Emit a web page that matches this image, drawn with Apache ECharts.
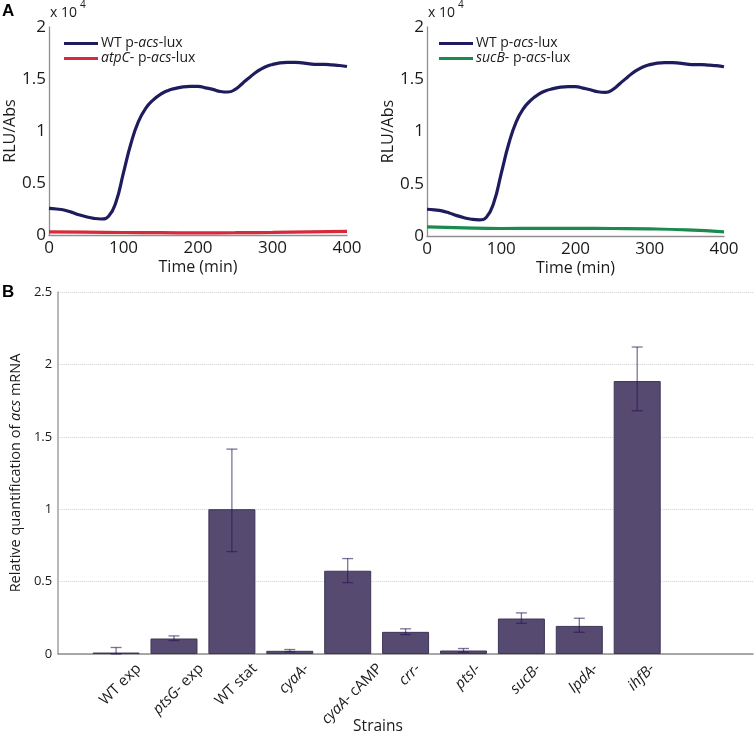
<!DOCTYPE html>
<html><head><meta charset="utf-8">
<script src="https://cdn.jsdelivr.net/npm/echarts@6/dist/echarts.min.js"></script>
<style>html,body{margin:0;padding:0;background:#fff}#c{width:755px;height:739px}</style>
</head><body><div id="c"></div>
<script>
// ---- Panel A data (RLU/Abs, in units of 10^4) ----
const times = [0,10,20,30,40,50,60,70,80,90,100,110,120,130,140,150,160,170,180,190,200,210,220,230,240,250,260,270,280,290,300,310,320,330,340,350,360,370,380,390,400];
const wtLux = [0.256,0.25,0.24,0.22,0.195,0.175,0.16,0.154,0.18,0.32,0.60,0.88,1.09,1.22,1.30,1.355,1.39,1.41,1.425,1.43,1.43,1.415,1.40,1.38,1.375,1.40,1.46,1.52,1.575,1.615,1.64,1.655,1.66,1.66,1.655,1.645,1.64,1.64,1.635,1.63,1.62];
const sparseTimes = [0,50,100,150,200,250,300,350,400];
const atpCLux = [0.03,0.027,0.024,0.022,0.021,0.022,0.025,0.03,0.035];
const sucBLux = [0.087,0.077,0.072,0.073,0.074,0.072,0.068,0.058,0.040];
const topTimeTicks = [0,100,200,300,400];
const topRluTicks = [0,0.5,1,1.5,2];
const legendLabels = {
  'WT p-acs-lux': 'WT p-{i|acs}-lux',
  'atpC- p-acs-lux': '{i|atpC}- p-{i|acs}-lux',
  'sucB- p-acs-lux': '{i|sucB}- p-{i|acs}-lux'
};
// ---- Panel B data ----
const strains = ['WT exp','{i|ptsG}- exp','WT stat','{i|cyaA}-','{i|cyaA}- cAMP','{i|crr}-','{i|ptsI}-','{i|sucB}-','{i|lpdA}-','{i|ihfB}-'];
const mRNA    = [0.010,0.107,1.000,0.022,0.575,0.153,0.024,0.245,0.194,1.885];
const errLow  = [0.000,0.093,0.707,0.015,0.493,0.134,0.012,0.212,0.150,1.680];
const errHigh = [0.045,0.125,1.415,0.031,0.659,0.174,0.038,0.284,0.247,2.120];
const mRNATicks = [0,0.5,1,1.5,2,2.5];

const FONT = "'Open Sans', 'Noto Sans', sans-serif";
const NAVY = '#1f1c5e', RED = '#d62a3c', GREEN = '#1a8a4e';
const AXIS = '#8f8f8f';

const chart = echarts.init(document.getElementById('c'), null, {renderer:'canvas'});

function topX(grid){
  return {type:'value', gridIndex:grid, min:topTimeTicks[0], max:topTimeTicks[topTimeTicks.length-1], interval:100,
    axisLine:{show:true, lineStyle:{color:AXIS, width:1.3}}, axisTick:{show:false}, splitLine:{show:false},
    axisLabel:{fontSize:17, color:'#1a1a1a', margin:5, fontFamily:FONT},
    name:'Time (min)', nameLocation:'middle', nameGap:24, nameTextStyle:{fontSize:16, color:'#1a1a1a', fontFamily:FONT}};
}
function topY(grid){
  return {type:'value', gridIndex:grid, min:topRluTicks[0], max:topRluTicks[topRluTicks.length-1], interval:0.5,
    axisLine:{show:true, lineStyle:{color:AXIS, width:1.3}}, axisTick:{show:false}, splitLine:{show:false},
    axisLabel:{fontSize:17, color:'#1a1a1a', margin:3, fontFamily:FONT},
    name:'RLU/Abs', nameLocation:'middle', nameGap:31, nameTextStyle:{fontSize:16, color:'#1a1a1a', fontFamily:FONT}};
}
function legend(left, names){
  return {show:true, orient:'vertical', left:left, top:31, itemWidth:34, itemHeight:3, itemGap:0, icon:'rect',
    data:names, selectedMode:false,
    formatter: n => legendLabels[n],
    textStyle:{fontSize:14, lineHeight:15, color:'#1a1a1a', fontFamily:FONT, padding:[0,0,0,-2],
      rich:{i:{fontStyle:'italic', fontSize:14, fontFamily:FONT, color:'#1a1a1a'}}}};
}
function lineSeries(name, xs, ys, color, xi){
  return {type:'line', name:name, xAxisIndex:xi, yAxisIndex:xi, data: xs.map((t,i)=>[t, ys[i]]),
    smooth:0.5, showSymbol:false, symbol:'none', lineStyle:{color:color, width:3.2}, itemStyle:{color:color}};
}

const staticGraphics = [
  {id:'A', type:'text', x:2, y:3, style:{text:'A', fontSize:17, fontWeight:'bold', fontFamily:'Liberation Sans, Arial, sans-serif', fill:'#000'}},
  {id:'B', type:'text', x:2, y:284, style:{text:'B', fontSize:17, fontWeight:'bold', fontFamily:'Liberation Sans, Arial, sans-serif', fill:'#000'}},
  {id:'e1', type:'text', x:50, y:6, style:{text:'x 10', fontSize:14, fontFamily:FONT, fill:'#1a1a1a'}},
  {id:'e1s', type:'text', x:80, y:0, style:{text:'4', fontSize:10, fontFamily:FONT, fill:'#1a1a1a'}},
  {id:'e2', type:'text', x:428, y:6, style:{text:'x 10', fontSize:14, fontFamily:FONT, fill:'#1a1a1a'}},
  {id:'e2s', type:'text', x:458, y:0, style:{text:'4', fontSize:10, fontFamily:FONT, fill:'#1a1a1a'}},
  {id:'strains', type:'text', x:378, y:719, style:{text:'Strains', fontSize:15.5, fontFamily:FONT, fill:'#1a1a1a', align:'center', verticalAlign:'top'}}
];

const option = {
  animation:false,
  backgroundColor:'#ffffff',
  textStyle:{fontFamily:FONT},
  grid:[
    {left:49, top:27, width:298, height:208},
    {left:427, top:27, width:297, height:209},
    {left:50, top:292, width:703, height:362}
  ],
  legend:[legend(59, ['WT p-acs-lux','atpC- p-acs-lux']), legend(434, ['WT p-acs-lux','sucB- p-acs-lux'])],
  xAxis:[topX(0), topX(1),
    {type:'value', gridIndex:2, min:0, max:12, interval:1,
     axisLine:{show:true, lineStyle:{color:AXIS, width:1.5}}, axisTick:{show:false}, axisLabel:{show:false}, splitLine:{show:false}}],
  yAxis:[topY(0), topY(1),
    {type:'value', gridIndex:2, min:mRNATicks[0], max:mRNATicks[mRNATicks.length-1], interval:0.5,
     axisLine:{show:true, lineStyle:{color:'#a0a0a0', width:1.5}}, axisTick:{show:false},
     splitLine:{show:true, lineStyle:{color:'#cfcfcf', type:'dotted', width:1}},
     axisLabel:{fontSize:13, color:'#1a1a1a', margin:6, fontFamily:FONT},
     name:'Relative quantification of {i|acs} mRNA', nameLocation:'middle', nameGap:33,
     nameTextStyle:{fontSize:14.5, color:'#1a1a1a', fontFamily:FONT, rich:{i:{fontStyle:'italic', fontSize:14.5, fontFamily:FONT, color:'#1a1a1a'}}}}],
  series:[
    lineSeries('atpC- p-acs-lux', sparseTimes, atpCLux, RED, 0),
    lineSeries('WT p-acs-lux', times, wtLux, NAVY, 0),
    lineSeries('sucB- p-acs-lux', sparseTimes, sucBLux, GREEN, 1),
    lineSeries('WT p-acs-lux', times, wtLux, NAVY, 1),
    {type:'bar', xAxisIndex:2, yAxisIndex:2, barWidth:47, data: mRNA.map((v,i)=>[i+1, v]),
     itemStyle:{color:'#564a70', borderColor:'#3e3656', borderWidth:1}},
    {type:'custom', xAxisIndex:2, yAxisIndex:2, z:10,
     data: mRNA.map((v,i)=>[i+1, errLow[i], errHigh[i]]),
     renderItem:function(params, api){
       const x = api.value(0);
       const lo = api.coord([x, api.value(1)]);
       const hi = api.coord([x, api.value(2)]);
       const cw = 5.5;
       const st = {stroke:'rgba(40,20,85,0.6)', lineWidth:1.3, fill:null};
       return {type:'group', children:[
         {type:'line', shape:{x1:lo[0], y1:lo[1], x2:hi[0], y2:hi[1]}, style:st},
         {type:'line', shape:{x1:hi[0]-cw, y1:hi[1], x2:hi[0]+cw, y2:hi[1]}, style:st},
         {type:'line', shape:{x1:lo[0]-cw, y1:lo[1], x2:lo[0]+cw, y2:lo[1]}, style:st}
       ]};
     }}
  ],
  graphic: staticGraphics
};
chart.setOption(option);

// Rotated strain labels, centred under each bar (positions from the axis scale)
const ctx = document.createElement('canvas').getContext('2d');
function measure(markup, size){
  let w = 0;
  const re = /\{i\|([^}]*)\}|([^{]+)/g; let m;
  while ((m = re.exec(markup))){
    if (m[1] !== undefined){ ctx.font = 'italic ' + size + 'px ' + FONT; w += ctx.measureText(m[1]).width; }
    else { ctx.font = size + 'px ' + FONT; w += ctx.measureText(m[2]).width; }
  }
  return w;
}
const LS = 15;
const labelGraphics = strains.map((s, i) => {
  const p = chart.convertToPixel({gridIndex:2}, [i+1, 0]);
  const L = measure(s, LS);
  return {id:'lab'+i, type:'text', x:p[0] + 0.354*L - 1, y:p[1] + 7, rotation:Math.PI/4,
    style:{text:s, fontSize:LS, fontFamily:FONT, fill:'#1a1a1a', align:'right', verticalAlign:'top',
      rich:{i:{fontStyle:'italic', fontSize:LS, fontFamily:FONT, fill:'#1a1a1a'}}}};
});
chart.setOption({graphic: staticGraphics.concat(labelGraphics)});
</script></body></html>
